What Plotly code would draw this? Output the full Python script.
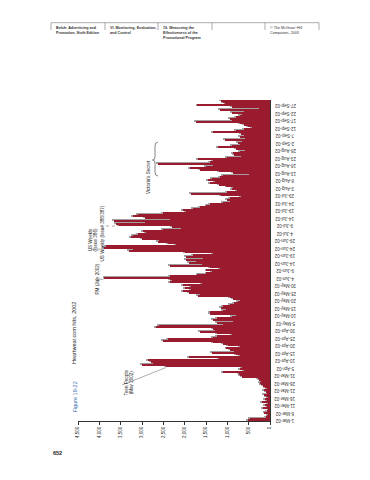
import pandas as pd
import plotly.graph_objects as go

# ---- data: daily hits, 1-Mar-02 .. 30-Sep-02 ----
start_date = "2002-03-01"
hits = [
    520, 470, 90, 60, 40, 130, 70, 30, 160, 60,
    110, 40, 180, 70, 120, 50, 90, 140, 60, 100,
    150, 80, 120, 170, 210, 240, 200, 260, 280, 650,
    700, 720, 1100, 600, 700, 650, 2430, 3000, 2750, 2800,
    2850, 1200, 1900, 700, 800, 1370, 850, 940, 1020, 700,
    980, 1100, 1335, 2500, 2400, 1335, 1250, 900, 1250, 1650,
    1300, 1335, 2670, 2600, 1100, 1250, 860, 1335, 1250, 900,
    800, 1400, 1410, 1100, 1020, 1140, 1100, 940, 850, 745,
    700, 860, 940, 1690, 1650, 1900, 2040, 1850, 2000, 1850,
    2040, 1600, 2350, 2300, 2350, 3880, 2350, 1700, 1490, 1350,
    1490, 1180, 1400, 2350, 1600, 1900, 1730, 1980, 1570, 1960,
    1800, 1330, 2000, 3300, 3200, 3890, 3850, 2200, 2400, 2630,
    2600, 3000, 3260, 3220, 3100, 2900, 2980, 2500, 2080, 2300,
    3550, 3600, 2940, 3650, 2350, 2940, 3220, 3100, 2500, 1960,
    2040, 1800, 1650, 1490, 1400, 1100, 940, 1000, 940, 670,
    1140, 1845, 1000, 785, 900, 860, 1020, 1200, 1400, 1300,
    1450, 1350, 1180, 1100, 500, 860, 1200, 1650, 1880, 1500,
    1335, 2630, 1400, 1335, 1690, 1000, 670, 850, 860, 700,
    590, 800, 1217, 900, 700, 760, 650, 1060, 590, 700,
    600, 670, 1335, 800, 600, 430, 510, 600, 700, 1730,
    900, 940, 800, 700, 650, 900, 600, 1180, 250, 900,
    1700, 1044, 1100, 1150,
]
dates = pd.date_range(start_date, periods=len(hits), freq="D")
label_dates = dates[::5]
label_text = [f"{d.day}-{d.strftime('%b')}-{d.strftime('%y')}" for d in label_dates]

value_ticks = [0, 500, 1000, 1500, 2000, 2500, 3000, 3500, 4000, 4500]

header_cols = [
    ("Belch: Advertising and<br>Promotion, Sixth Edition", True),
    ("VI. Monitoring, Evaluation,<br>and Control", True),
    ("19. Measuring the<br>Effectiveness of the<br>Promotional Program", True),
    ("", False),
    ("© The McGraw\u2212Hill<br>Companies, 2003", False),
]

RED = "#9a1a2e"
GRAY = "#a3a0a3"
FONT = "Liberation Sans Narrow, Liberation Sans, Arial, sans-serif"

# plot area in pixels
L, R, T, B = 78, 270, 100, 421
W, H = R - L, B - T


def px(x):
    return (x - L) / W


def py(y):
    return (B - y) / H


fig = go.Figure()
# gray "3D" face of each bar
fig.add_trace(go.Bar(
    y=dates + pd.Timedelta(hours=14), x=hits, base=45, orientation="h",
    marker=dict(color=GRAY, line=dict(width=0)), width=86400000 * 0.9,
    hoverinfo="skip", showlegend=False,
))
fig.add_trace(go.Bar(
    y=dates, x=hits, orientation="h",
    marker=dict(color=RED, line=dict(width=0)), width=86400000 * 0.95,
    showlegend=False,
))

fig.update_layout(
    width=370, height=480,
    margin=dict(l=L, r=370 - R, t=T, b=480 - B),
    paper_bgcolor="white", plot_bgcolor="white",
    bargap=0, barmode="overlay",
    font=dict(family=FONT, color="#222", size=5),
    xaxis=dict(
        range=[4500, 0], tickvals=value_ticks, tickformat=",d",
        tickangle=-90, ticks="outside", ticklen=3, tickwidth=0.6,
        tickcolor="#333", showline=True, linecolor="#333", linewidth=0.8,
        showgrid=False, zeroline=False, tickfont=dict(size=4.5),
    ),
    yaxis=dict(
        type="date", side="right",
        range=[pd.Timestamp("2002-02-28 12:00"), pd.Timestamp("2002-09-30 12:00")],
        showticklabels=False, ticks="", showline=True, linecolor="#333",
        linewidth=0.8, showgrid=False, zeroline=False,
    ),
)

shapes = []
anns = []

# category (date) labels, upside down to the right of the axis
for d, t in zip(label_dates, label_text):
    anns.append(dict(text=t, xref="paper", yref="y", x=px(285), y=d,
                     textangle=180, showarrow=False, xanchor="center",
                     yanchor="middle",
                     font=dict(size=4.5, color="#333", family=FONT)))

# header boxes
col_x = [51, 105, 158, 212, 265, 319]
shapes.append(dict(type="line", xref="paper", yref="paper",
                   x0=px(51), x1=px(319), y0=py(22.7), y1=py(22.7),
                   line=dict(color="#888", width=0.7)))
for cx in col_x:
    shapes.append(dict(type="line", xref="paper", yref="paper",
                       x0=px(cx), x1=px(cx), y0=py(22.7), y1=py(30),
                       line=dict(color="#888", width=0.7)))
for i, (txt, bold) in enumerate(header_cols):
    if not txt:
        continue
    anns.append(dict(
        text=f"<b>{txt}</b>" if bold else txt, xref="paper", yref="paper",
        x=px(col_x[i] + 3), y=py(24.5), xanchor="left", yanchor="top",
        align="left", showarrow=False,
        font=dict(size=3.7, family=FONT, color="#333"),
    ))

# caption
anns.append(dict(text="Figure 19-22", xref="paper", yref="paper",
                 x=px(69), y=py(415), textangle=-90, showarrow=False,
                 font=dict(size=5.5, color="#3a6db3", family=FONT)))
anns.append(dict(text="Heartwear.com hits, 2002", xref="paper", yref="paper",
                 x=px(69), y=py(366), textangle=-90, showarrow=False,
                 font=dict(size=5.5, color="#222", family=FONT)))
# page number
anns.append(dict(text="<b>652</b>", xref="paper", yref="paper",
                 x=px(51), y=py(458), showarrow=False,
                 font=dict(size=5.5, color="#222", family=FONT)))

# callouts
callouts = [
    ("Victoria's Secret", 148, 158),
    ("US Weekly (Issue 388/387)", 97, 204),
    ("US Weekly<br>(Issue 386)", 85, 240),
    ("PM (July 2002)", 92, 279),
    ("Teen People<br>(May 2002)", 121, 398),
]
for txt, x, y in callouts:
    anns.append(dict(text=txt, xref="paper", yref="paper", x=px(x), y=py(y),
                     textangle=-90, showarrow=False, align="center",
                     font=dict(size=4.6, color="#222", family=FONT)))

leaders = [
    ((100, 226), (117, 226), "dot"),
    ((91, 249), (104, 249), "dot"),
    ((95.5, 281), (105, 278.5), "solid"),
    ((122, 385), (166, 367.5), "solid"),
]
for (x0, y0), (x1, y1), dash in leaders:
    shapes.append(dict(type="line", xref="paper", yref="paper",
                       x0=px(x0), y0=py(y0), x1=px(x1), y1=py(y1),
                       line=dict(color="#777", width=0.6, dash=dash)))

# brace for Victoria's Secret
pts = "M {a},{b} Q {c},{b} {c},{d} L {c},{e} Q {c},{f} {g},{f} Q {c},{f} {c},{h} L {c},{i} Q {c},{j} {a},{j}".format(
    a=px(158), b=py(142), c=px(155), d=py(146), e=py(157), f=py(160),
    g=px(152.5), h=py(163), i=py(172), j=py(176))
shapes.append(dict(type="path", xref="paper", yref="paper", path=pts,
                   line=dict(color="#333", width=0.6)))

fig.update_layout(shapes=shapes, annotations=anns)
fig.write_html("out.html")
